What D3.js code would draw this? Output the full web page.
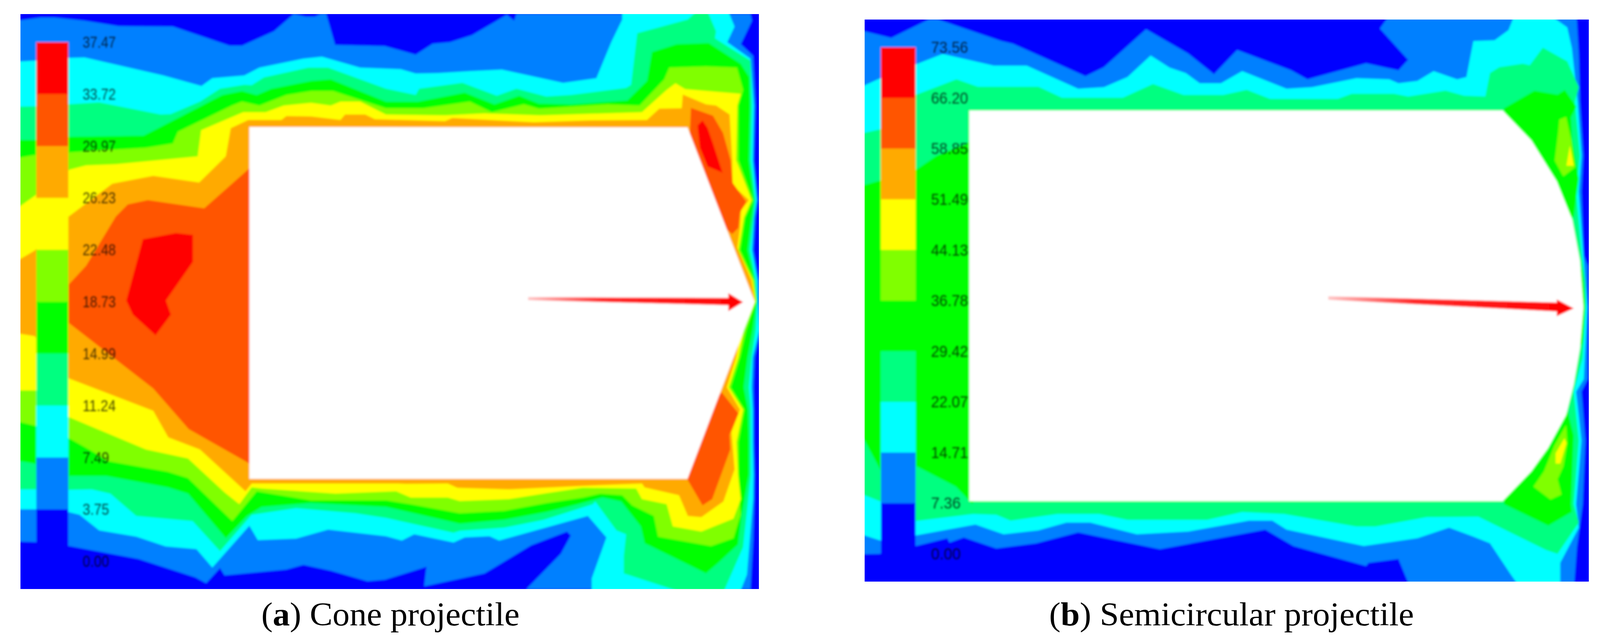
<!DOCTYPE html>
<html>
<head>
<meta charset="utf-8">
<style>html,body{margin:0;padding:0;background:#fff;overflow:hidden}svg{display:block}</style>
<script src="https://cdn.jsdelivr.net/npm/d3@7/dist/d3.min.js"></script>
</head>
<body>
<div id="chart"></div>
<script>
// ---------- legend data ----------
const levelColors = ["#0000ff","#0080ff","#00ffff","#00ff80","#00ff00","#80ff00","#ffff00","#ffaa00","#ff5500","#ff0000"];
const coneTicks = [37.47,33.72,29.97,26.23,22.48,18.73,14.99,11.24,7.49,3.75,0.00];
const semiTicks = [73.56,66.20,58.85,51.49,44.13,36.78,29.42,22.07,14.71,7.36,0.00];
const captions = [["(","a",") Cone projectile"],["(","b",") Semicircular projectile"]];

// ---------- contour outlines, panel (a) ----------
const coneAzure = [[53,52],[104,45],[142,45],[219,53],[308,67],[448,68],[595,117],[627,117],[710,80],[761,36],[793,43],[815,43],[831,36],[845,36],[868,115],[997,118],[1077,140],[1121,112],[1166,108],[1223,90],[1313,38],[1332,53],[1338,36],[1944,36],[1948,53],[1919,113],[1951,143],[1957,270],[1953,410],[1963,512],[1957,557],[1952,640],[1965,717],[1967,771],[1970,844],[1955,914],[1952,991],[1953,1048],[1953,1131],[1955,1214],[1954,1283],[1951,1383],[1944,1507],[1364,1507],[1453,1417],[1479,1370],[1469,1360],[1376,1395],[1255,1467],[1099,1500],[1105,1450],[1040,1470],[997,1483],[952,1487],[857,1460],[786,1445],[742,1457],[582,1472],[570,1453],[534,1492],[506,1477],[359,1430],[180,1397],[94,1387],[40,1385],[40,52]];
const coneCyan = [[40,158],[94,155],[177,148],[219,147],[423,193],[522,220],[550,200],[633,193],[672,173],[786,150],[834,145],[933,173],[1038,177],[1077,188],[1134,187],[1217,182],[1300,178],[1459,212],[1545,200],[1584,107],[1612,50],[1612,30],[1887,30],[1903,68],[1884,108],[1944,150],[1953,270],[1950,410],[1960,512],[1953,557],[1948,640],[1962,717],[1963,771],[1967,844],[1950,914],[1947,991],[1950,1048],[1950,1131],[1952,1214],[1951,1277],[1935,1470],[1917,1515],[1533,1515],[1533,1480],[1571,1375],[1523,1320],[1293,1383],[1268,1372],[1204,1375],[1175,1388],[1073,1367],[1041,1383],[1000,1372],[850,1355],[767,1378],[668,1382],[646,1345],[550,1452],[509,1405],[429,1398],[353,1373],[257,1357],[206,1317],[177,1310],[94,1303],[40,1303]];
const coneSpring = [[40,273],[94,272],[177,267],[257,262],[416,293],[442,292],[518,260],[570,227],[633,217],[652,218],[684,198],[799,173],[850,173],[1000,227],[1077,243],[1086,227],[1198,212],[1287,245],[1338,227],[1415,247],[1479,243],[1622,225],[1635,217],[1651,85],[1782,50],[1804,30],[1833,30],[1855,80],[1852,98],[1887,120],[1944,155],[1948,270],[1945,410],[1957,512],[1952,557],[1943,640],[1958,717],[1962,771],[1958,844],[1947,914],[1940,991],[1945,1048],[1945,1131],[1945,1214],[1936,1300],[1925,1400],[1874,1515],[1766,1515],[1616,1467],[1616,1423],[1622,1367],[1597,1357],[1542,1283],[1536,1290],[1408,1330],[1306,1350],[1191,1358],[1175,1363],[1000,1325],[920,1313],[767,1300],[652,1317],[570,1410],[499,1333],[353,1320],[286,1263],[238,1252],[177,1253],[94,1252],[40,1252]];
const coneGreen = [[40,358],[94,358],[177,350],[372,347],[576,243],[627,233],[665,243],[703,227],[806,207],[857,203],[1000,260],[1083,260],[1204,237],[1281,267],[1345,245],[1396,265],[1479,267],[1625,257],[1676,207],[1689,133],[1753,113],[1836,110],[1919,163],[1941,197],[1943,270],[1940,410],[1953,512],[1947,557],[1937,640],[1955,717],[1960,771],[1950,844],[1937,914],[1927,991],[1938,1048],[1940,1131],[1940,1214],[1922,1317],[1912,1393],[1861,1440],[1829,1467],[1670,1390],[1660,1347],[1609,1283],[1561,1273],[1498,1290],[1415,1310],[1306,1330],[1191,1340],[1000,1297],[805,1287],[678,1297],[640,1320],[585,1377],[487,1263],[435,1247],[276,1218],[177,1218],[94,1187],[40,1178]];
const coneChart = [[40,405],[93,396],[177,390],[378,378],[448,367],[461,337],[601,270],[627,260],[672,270],[742,243],[806,233],[863,233],[1000,277],[1096,277],[1217,260],[1274,287],[1357,267],[1396,278],[1574,267],[1657,270],[1721,203],[1734,173],[1829,170],[1909,173],[1925,230],[1913,270],[1913,410],[1950,512],[1930,557],[1917,640],[1953,717],[1958,771],[1933,844],[1917,914],[1893,991],[1928,1048],[1913,1131],[1913,1214],[1918,1317],[1900,1377],[1842,1397],[1705,1373],[1694,1320],[1638,1293],[1612,1267],[1555,1263],[1510,1273],[1415,1287],[1306,1307],[1191,1313],[1064,1290],[1000,1280],[805,1280],[665,1257],[602,1333],[487,1223],[435,1207],[282,1180],[231,1150],[177,1120],[94,1090],[40,1077]];
const coneYellow = [[40,536],[90,501],[180,434],[223,423],[300,420],[512,400],[521,333],[630,287],[688,287],[735,270],[806,263],[857,270],[882,260],[933,260],[1000,293],[1153,295],[1255,290],[1400,295],[1663,287],[1727,230],[1750,213],[1775,228],[1919,240],[1910,270],[1907,410],[1947,512],[1927,557],[1913,640],[1950,717],[1957,771],[1927,844],[1913,914],[1888,991],[1925,1048],[1908,1131],[1912,1214],[1919,1277],[1900,1327],[1817,1360],[1743,1347],[1727,1290],[1663,1277],[1648,1250],[1510,1248],[1415,1262],[1319,1277],[1191,1282],[1160,1273],[1064,1273],[1026,1257],[869,1263],[678,1250],[652,1247],[620,1290],[582,1260],[487,1173],[378,1150],[178,1067],[94,999],[40,999]];
const coneOrange = [[40,670],[90,641],[178,554],[291,470],[397,450],[516,467],[585,400],[598,328],[643,307],[729,307],[742,297],[806,298],[882,307],[894,293],[946,293],[971,305],[1153,310],[1172,302],[1383,313],[1530,308],[1676,307],[1708,278],[1766,277],[1769,242],[1829,267],[1855,270],[1890,293],[1897,410],[1898,474],[1940,512],[1920,538],[1917,583],[1910,634],[1947,717],[1955,771],[1920,844],[1907,914],[1883,991],[1917,1048],[1895,1106],[1903,1201],[1874,1283],[1817,1323],[1782,1320],[1759,1267],[1670,1247],[1663,1237],[1510,1243],[1319,1252],[1185,1248],[1160,1237],[1051,1238],[1032,1237],[652,1237],[636,1257],[518,1150],[436,1119],[397,1051],[178,968],[90,860],[40,852]];
const coneRedOrange = [[178,728],[223,680],[300,554],[331,523],[383,512],[529,533],[648,429],[648,1187],[489,1098],[397,994],[178,826]];
const coneNoseUpper = [[1790,276],[1847,296],[1873,340],[1893,410],[1898,468],[1933,516],[1917,544],[1913,583],[1897,599],[1780,500]];
const coneNoseLower = [[1870,1004],[1913,1058],[1890,1112],[1892,1150],[1845,1277],[1820,1293],[1781,1227],[1750,1100]];
const coneRedBody = [[370,612],[456,596],[500,601],[500,670],[430,769],[443,805],[403,858],[344,805],[327,769]];
const coneRedNose = [[1807,321],[1820,308],[1833,327],[1847,366],[1872,442],[1833,426],[1813,378]];
const coneBody = [[646,325],[1781,326],[1955,772],[1781,1225],[646,1225]];
const coneArrow = [[1368,760],[1887,762],[1887,750],[1925,773],[1887,796],[1887,781],[1368,768]];

// ---------- contour outlines, panel (b) ----------
const semiAzure = [[2230,78],[2309,97],[2406,50],[2430,50],[2594,105],[2624,112],[2812,195],[2860,172],[2969,75],[3078,137],[3145,190],[3205,128],[3345,180],[3387,203],[3539,162],[3623,180],[3648,153],[3575,73],[3599,40],[4084,40],[4090,140],[4093,260],[4102,398],[4097,490],[4103,654],[4113,680],[4113,970],[4097,1002],[4107,1127],[4100,1290],[4085,1400],[4078,1495],[3650,1495],[3623,1430],[3545,1440],[3539,1448],[3351,1397],[3278,1355],[3005,1405],[2793,1362],[2684,1390],[2581,1403],[2497,1375],[2460,1388],[2454,1377],[2372,1397],[2278,1417],[2230,1418]];
const semiCyan = [[2230,223],[2281,200],[2372,165],[2442,138],[2575,168],[2660,168],[2793,227],[2860,223],[2921,197],[2981,142],[3030,173],[3072,187],[3108,213],[3163,213],[3218,182],[3333,227],[3399,223],[3514,200],[3599,203],[3623,213],[3672,207],[3714,182],[3775,203],[3799,197],[3817,105],[3872,103],[3908,77],[3923,40],[4017,40],[4060,70],[4072,123],[4087,260],[4097,398],[4090,490],[4102,654],[4112,786],[4103,970],[4083,1002],[4097,1127],[4083,1290],[4090,1350],[4042,1440],[4042,1495],[3932,1495],[3914,1470],[3860,1390],[3817,1373],[3754,1350],[3672,1377],[3533,1397],[3333,1355],[3296,1332],[3236,1332],[3078,1360],[2945,1367],[2824,1337],[2763,1337],[2690,1357],[2600,1367],[2527,1342],[2372,1370],[2281,1383],[2230,1367]];
const semiSpring = [[2230,342],[2280,331],[2372,243],[2478,203],[2533,222],[2690,222],[2751,250],[2909,250],[2987,215],[3066,243],[3169,243],[3230,230],[3290,253],[3466,253],[3502,240],[3611,240],[3648,247],[3745,232],[3793,245],[3848,247],[3860,187],[3884,172],[3945,163],[3963,167],[3997,122],[4060,157],[4090,223],[4080,260],[4093,398],[4083,490],[4098,654],[4107,720],[4108,786],[4100,917],[4077,1002],[4090,1127],[4077,1290],[4090,1337],[4035,1417],[4005,1407],[3830,1322],[3696,1323],[3563,1347],[3514,1347],[3327,1315],[3218,1310],[3127,1330],[2921,1330],[2848,1315],[2739,1315],[2618,1332],[2581,1317],[2521,1315],[2372,1333],[2281,1283],[2230,1263]];
const semiGreenLeft = [[2230,476],[2372,435],[2427,398],[2520,360],[2520,1290],[2476,1245],[2372,1192],[2281,1203],[2230,1109]];
const semiGreenUpper = [[3896,277],[3975,232],[4035,242],[4054,230],[4084,273],[4070,300],[4073,358],[4090,457],[4077,556],[3900,500]];
const semiGreenMiddle = [[4000,700],[4098,690],[4107,770],[4100,880],[4000,880]];
const semiGreenLower = [[4062,1055],[4077,1114],[4070,1290],[4072,1310],[4011,1345],[3896,1290],[3900,1100]];
const semiChartUpper = [[4040,306],[4057,299],[4070,359],[4080,428],[4050,451],[4028,411],[4037,339]];
const semiYellowUpper = [[4067,372],[4077,424],[4058,424]];
const semiChartLower = [[4057,1088],[4060,1134],[4050,1193],[4035,1226],[4045,1265],[4017,1278],[3973,1245],[4000,1206],[4027,1140]];
const semiYellowLower = [[4053,1121],[4058,1134],[4042,1186],[4030,1186],[4030,1160]];
const semiBody = [[2511,283],[3893,283],[3967,359],[4033,464],[4073,562],[4093,667],[4102,786],[4093,891],[4077,983],[4057,1062],[4010,1147],[3967,1206],[3893,1282],[2511,1282]];
const semiArrow = [[3441,758],[4033,774],[4033,766],[4077,789],[4033,809],[4033,797],[3441,767]];

// ---------- which outline is painted in which legend colour ----------
const conePaint = [[coneAzure,1],[coneCyan,2],[coneSpring,3],[coneGreen,4],[coneChart,5],[coneYellow,6],[coneOrange,7],[coneRedOrange,8],[coneNoseUpper,8],[coneNoseLower,8],[coneRedBody,9],[coneRedNose,9]];
const semiPaint = [[semiAzure,1],[semiCyan,2],[semiSpring,3],[semiGreenLeft,4],[semiGreenUpper,4],[semiGreenMiddle,4],[semiGreenLower,4],[semiChartUpper,5],[semiYellowUpper,6],[semiChartLower,5],[semiYellowLower,6]];

// ---------- drawing: the design is 4145x1640, mapped onto the actual window ----------
const W = 4145, H = 1640;
const VW = Math.min(window.innerWidth || W, W), VH = window.innerHeight || H;
const x = d3.scaleLinear().domain([0,W]).range([0,VW]);
const y = d3.scaleLinear().domain([0,H]).range([0,VH]);
const outline = d3.line().x(d=>x(d[0])).y(d=>y(d[1]));
const svg = d3.select("#chart").append("svg").attr("width",VW).attr("height",VH);
svg.append("rect").attr("width",VW).attr("height",VH).attr("fill","#fff");
const defs = svg.append("defs");
const blur = (id,s)=>defs.append("filter").attr("id",id).attr("filterUnits","userSpaceOnUse")
  .attr("x",0).attr("y",0).attr("width",VW).attr("height",VH)
  .append("feGaussianBlur").attr("stdDeviation",s);
blur("soft",2.8); blur("softText",2.6);

const panels = [
 {id:"a",frame:[53,36,1966,1507],paint:conePaint,body:coneBody,arrow:coneArrow,ticks:coneTicks,
  bar:[94,177],barY:[108,1436],labelX:214,labelChar:17,cap:captions[0],capX:677,capW:669},
 {id:"b",frame:[2240,50,4116,1488],paint:semiPaint,body:semiBody,arrow:semiArrow,ticks:semiTicks,
  bar:[2282,2372],barY:[121,1417],labelX:2412,labelChar:19,cap:captions[1],capX:2718,capW:945}
];

panels.forEach(p=>{
  const [x0,y0,x1,y1] = p.frame;
  defs.append("clipPath").attr("id","clip-"+p.id).append("rect")
    .attr("x",x(x0)).attr("y",y(y0)).attr("width",x(x1)-x(x0)).attr("height",y(y1)-y(y0));
  const grad = defs.append("linearGradient").attr("id","fade-"+p.id).attr("gradientUnits","userSpaceOnUse")
    .attr("x1",x(p.arrow[0][0])).attr("x2",x(p.arrow[3][0])).attr("y1",0).attr("y2",0);
  grad.append("stop").attr("offset",0).attr("stop-color","#ffc8c8");
  grad.append("stop").attr("offset",0.35).attr("stop-color","#ff2a2a");
  grad.append("stop").attr("offset",1).attr("stop-color","#ff0000");

  const clip = svg.append("g").attr("clip-path",`url(#clip-${p.id})`);
  const g = clip.append("g").attr("filter","url(#soft)");
  g.append("rect").attr("x",x(x0)-10).attr("y",y(y0)-10).attr("width",x(x1)-x(x0)+20).attr("height",y(y1)-y(y0)+20).attr("fill",levelColors[0]);
  g.selectAll("path.level").data(p.paint).join("path").attr("class","level")
    .attr("d",d=>outline(d[0])+"Z").attr("fill",d=>levelColors[d[1]]);
  // legend bar
  const bar = d3.scaleLinear().domain([p.ticks[0],0]).range(p.barY);
  const bins = d3.range(p.ticks.length-1).map(i=>[p.ticks[i],p.ticks[i+1],levelColors[9-i]]);
  g.selectAll("rect.bin").data(bins).join("rect").attr("class","bin")
    .attr("x",x(p.bar[0])).attr("width",x(p.bar[1])-x(p.bar[0]))
    .attr("y",d=>y(bar(d[0]))).attr("height",d=>y(bar(d[1]))-y(bar(d[0]))+0.5).attr("fill",d=>d[2]);
  // projectile
  g.append("path").attr("d",outline(p.body)+"Z").attr("fill","#fff");
  g.append("path").attr("d",outline(p.arrow)+"Z").attr("fill",`url(#fade-${p.id})`);
  // legend labels
  clip.append("g").attr("filter","url(#softText)").selectAll("text").data(p.ticks).join("text")
    .attr("x",x(p.labelX)).attr("y",d=>y(bar(d)+14))
    .attr("font-family","'Liberation Sans',Arial,sans-serif").attr("font-size",40)
    .attr("fill","#000").attr("fill-opacity",0.72)
    .attr("textLength",d=>d.toFixed(2).length*p.labelChar).attr("lengthAdjust","spacingAndGlyphs")
    .text(d=>d.toFixed(2));
  // caption
  const t = svg.append("text").attr("x",x(p.capX)).attr("y",y(1600))
    .attr("font-family","'Liberation Serif',serif").attr("font-size",84).attr("fill","#000")
    .attr("textLength",x(p.capW)).attr("lengthAdjust","spacingAndGlyphs");
  t.append("tspan").text(p.cap[0]);
  t.append("tspan").attr("font-weight","bold").text(p.cap[1]);
  t.append("tspan").text(p.cap[2]);
});
</script>
</body>
</html>
